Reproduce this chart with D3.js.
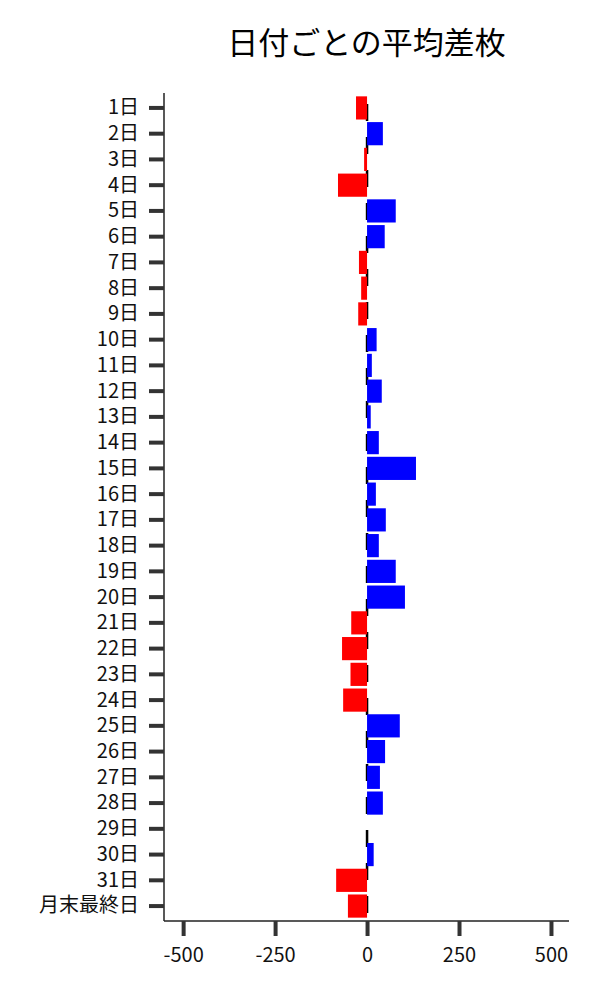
<!DOCTYPE html>
<html>
<head>
<meta charset="utf-8">
<script src="https://cdn.jsdelivr.net/npm/d3@7"></script>
<style>
  body { margin: 0; background: #fff; }
  text { font-family: "Noto Sans CJK JP", "Noto Sans", sans-serif; }
</style>
</head>
<body>
<svg id="chart" width="600" height="1000"></svg>
<script>
const days = ["1日", "2日", "3日", "4日", "5日", "6日", "7日", "8日", "9日", "10日",
  "11日", "12日", "13日", "14日", "15日", "16日", "17日", "18日", "19日", "20日",
  "21日", "22日", "23日", "24日", "25日", "26日", "27日", "28日", "29日", "30日",
  "31日", "月末最終日"];
const avgDiff = [-30, 43, -8, -79, 78, 48, -22, -16, -24, 26,
  13, 40, 10, 32, 133, 24, 51, 32, 78, 103,
  -43, -68, -45, -65, 89, 49, 35, 43, 0, 18,
  -84, -52];
const xTicks = [-500, -250, 0, 250, 500];

const svg = d3.select("#chart");
const margin = { top: 93, right: 31, bottom: 79, left: 164 };
const width = 600 - margin.left - margin.right;
const height = 1000 - margin.top - margin.bottom;

const g = svg.append("g").attr("transform", `translate(${margin.left},${margin.top})`);

const x = d3.scaleLinear().domain([-552, 549]).range([0, width]);
const y = d3.scaleBand().domain(days).range([0, height]).paddingInner(0.1).paddingOuter(0.13);

// title
svg.append("text")
  .attr("x", margin.left + width / 2)
  .attr("y", 54)
  .attr("text-anchor", "middle")
  .attr("font-size", 31)
  .attr("fill", "#000")
  .text("日付ごとの平均差枚");

// zero line (dashed), under the bars
g.append("line")
  .attr("x1", x(0)).attr("x2", x(0))
  .attr("y1", 0).attr("y2", height)
  .attr("stroke", "#000")
  .attr("stroke-width", 2.5)
  .attr("stroke-dasharray", "17,16")
  .attr("stroke-dashoffset", -11);

// bars
g.selectAll("rect.bar")
  .data(days.map((d, i) => ({ day: d, value: avgDiff[i] })))
  .enter()
  .append("rect")
  .attr("class", "bar")
  .attr("x", d => x(Math.min(0, d.value)))
  .attr("y", d => y(d.day))
  .attr("width", d => Math.abs(x(d.value) - x(0)))
  .attr("height", y.bandwidth())
  .attr("fill", d => d.value < 0 ? "#ff0000" : "#0000ff");

// axes
const yAxis = g.append("g")
  .call(d3.axisLeft(y).tickSize(15).tickPadding(10));
const xAxis = g.append("g")
  .attr("transform", `translate(0,${height})`)
  .call(d3.axisBottom(x).tickValues(xTicks).tickFormat(d => String(d))
    .tickSize(15).tickPadding(12));

[yAxis, xAxis].forEach(ax => {
  ax.select(".domain").attr("stroke", "#222").attr("stroke-width", 1.5);
  ax.selectAll(".tick line").attr("stroke", "#333").attr("stroke-width", 4);
  ax.selectAll(".tick text").attr("font-size", 20).attr("fill", "#111")
    .style("font-family", "'Noto Sans CJK JP', sans-serif");
});
// only the left and bottom spines, like the reference
yAxis.select(".domain").attr("d", `M0,0V${height}`);
xAxis.select(".domain").attr("d", `M0,0H${width}`);
</script>
</body>
</html>
